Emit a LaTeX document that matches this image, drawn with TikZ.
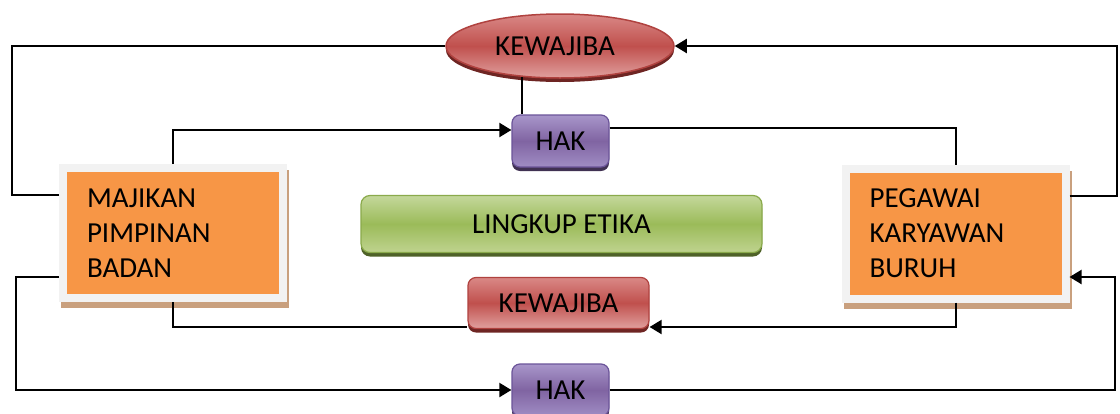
\documentclass[tikz,border=0pt]{standalone}
\usepackage{fontspec}
\setmainfont{Carlito}
\usetikzlibrary{arrows.meta,shapes.geometric,shadows,calc}
\definecolor{orangefill}{HTML}{F79646}
\definecolor{framegray}{HTML}{F2F2F2}
\definecolor{shadowbrown}{HTML}{C9A07E}
\definecolor{hakTop}{HTML}{A896CA}
\definecolor{hakMid}{HTML}{8064A2}
\definecolor{hakBot}{HTML}{A08DC4}
\definecolor{hakBorder}{HTML}{6B5499}
\definecolor{hakShadow}{HTML}{403152}
\definecolor{redTop}{HTML}{D98886}
\definecolor{redMid}{HTML}{C0504D}
\definecolor{redBot}{HTML}{E0A09E}
\definecolor{redBorder}{HTML}{B0423F}
\definecolor{redShadow}{HTML}{6E2523}
\definecolor{grnTop}{HTML}{C4D79B}
\definecolor{grnMid}{HTML}{9BBB59}
\definecolor{grnBot}{HTML}{BFD38F}
\definecolor{grnBorder}{HTML}{8AAA4B}
\definecolor{grnShadow}{HTML}{4F6228}
\begin{document}
\begin{tikzpicture}[x=1pt,y=-1pt,
  txt/.style={font=\fontsize{29}{35}\selectfont, text=black},
  conn/.style={line width=2pt, line join=miter, black},
  arr/.style={conn, -{Triangle[length=12pt,width=14pt]}},
  person/.style={txt, rectangle, fill=orangefill, draw=framegray, line width=8pt,
    inner xsep=24pt, text width=172pt, align=left, minimum height=130pt,
    drop shadow={shadow xshift=2pt, shadow yshift=-6pt, fill=shadowbrown, draw=shadowbrown, opacity=1}},
  hakbox/.style={txt, rectangle, rounded corners=8pt, draw=hakBorder, line width=1.2pt,
    top color=hakTop, bottom color=hakBot, middle color=hakMid,
    minimum width=97pt, minimum height=52pt,
    drop shadow={shadow xshift=0pt, shadow yshift=-4pt, fill=hakShadow, opacity=1}},
  redbox/.style={txt, rectangle, rounded corners=8pt, draw=redBorder, line width=1.2pt,
    top color=redTop, bottom color=redBot, middle color=redMid,
    minimum width=181pt, minimum height=51pt,
    drop shadow={shadow xshift=0pt, shadow yshift=-4pt, fill=redShadow, opacity=1}},
  redoval/.style={txt, ellipse, draw=redBorder, line width=1.5pt,
    top color=redTop, bottom color=redBot, middle color=redMid,
    minimum width=228pt, minimum height=64pt, inner sep=0pt,
    drop shadow={shadow xshift=0pt, shadow yshift=-4pt, fill=redShadow, opacity=1}},
  grnbox/.style={txt, rectangle, rounded corners=9pt, draw=grnBorder, line width=1.2pt,
    top color=grnTop, bottom color=grnBot, middle color=grnMid,
    minimum width=401pt, minimum height=57pt,
    drop shadow={shadow xshift=0pt, shadow yshift=-4pt, fill=grnShadow, opacity=1}},
]
\useasboundingbox (0,0) rectangle (1120,413);
\fill[white] (0,0) rectangle (1120,413);

\node[person] (majikan) at (173,233) {MAJIKAN\\PIMPINAN\\BADAN};
\node[person] (pegawai) at (955.5,233.5) {PEGAWAI\\KARYAWAN\\BURUH};
\node[redoval] (kewtop) at (560,46) {KEWAJIBA\hspace*{10pt}};
\node[hakbox] (haktop) at (560.5,141) {HAK};
\node[grnbox] (lingkup) at (561.5,224) {LINGKUP ETIKA};
\node[redbox] (kewmid) at (558.5,303) {KEWAJIBA};
\node[hakbox] (hakbot) at (560.5,390) {HAK};

% top loop: majikan -> kewajiban (top), pegawai -> kewajiban (top)
\draw[conn] ($(majikan.west)+(0,-38)$) -- ++(-47,0) |- (kewtop.west);
\draw[arr] ($(pegawai.east)+(0,-37.5)$) -- ++(47,0) |- (kewtop.east);
% kewajiban (top) to hak (top)
\draw[conn] (kewtop.219) -- (kewtop.219 |- haktop.north);
% majikan -> hak (top) -> pegawai
\draw[arr] (majikan.north) |- ($(haktop.west)+(0,-11)$);
\draw[conn] ($(haktop.east)+(0,-13)$) -| (pegawai.north);
% majikan, pegawai -> kewajiban (middle)
\draw[conn] (majikan.south) |- ($(kewmid.west)+(0,24)$);
\draw[arr] (pegawai.south) |- ($(kewmid.east)+(0,24)$);
% majikan -> hak (bottom) -> pegawai
\draw[arr] ($(majikan.west)+(0,44)$) -- ++(-43,0) |- (hakbot.west);
\draw[arr] (hakbot.east) -| ($(pegawai.east)+(45,43.5)$) -- ($(pegawai.east)+(0,43.5)$);
\end{tikzpicture}
\end{document}
